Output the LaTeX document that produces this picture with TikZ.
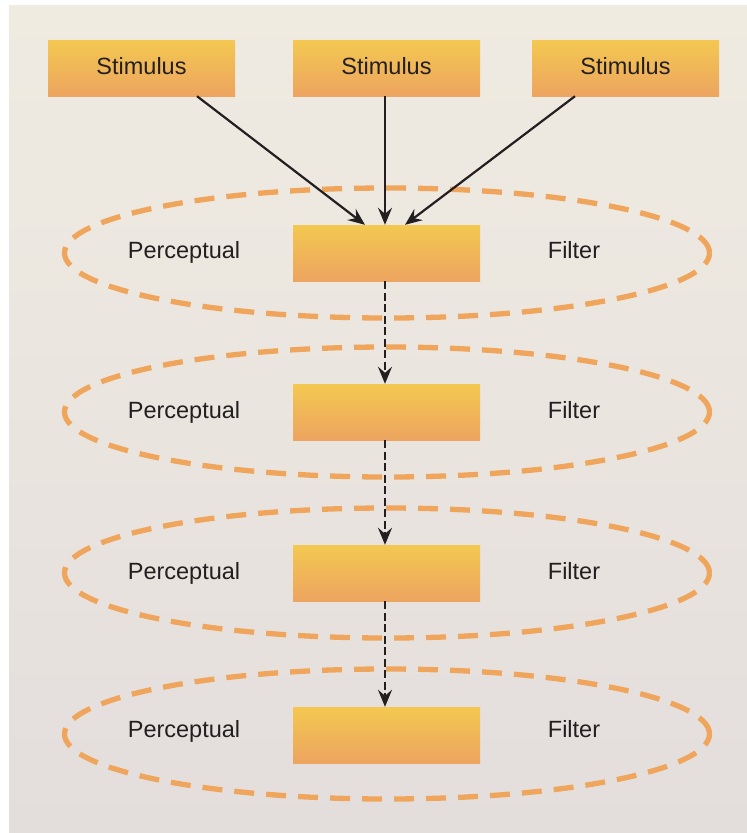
\documentclass[tikz,border=0pt]{standalone}
\usepackage{fontspec}
\setmainfont{Liberation Sans}
\usetikzlibrary{shapes.geometric,arrows.meta,calc}
\definecolor{bgtop}{RGB}{240,235,225}
\definecolor{bgbot}{RGB}{227,222,220}
\definecolor{boxtop}{RGB}{243,200,80}
\definecolor{boxbot}{RGB}{237,164,96}
\definecolor{ringc}{RGB}{240,165,92}
\definecolor{txt}{RGB}{35,31,32}
\tikzset{
  gbox/.style={rectangle, minimum width=187pt, minimum height=56pt, inner sep=0pt,
    top color=boxtop, bottom color=boxbot, text=txt, text height=15pt, text depth=2pt,
    font=\fontsize{23.5}{28}\selectfont},
  ring/.style={ellipse, draw=ringc, line width=5.3pt, dash pattern=on 20pt off 12pt,
    minimum width=645pt, minimum height=130pt, inner sep=0pt},
  lbl/.style={text=txt, inner sep=0pt, anchor=base, font=\fontsize{23.5}{28}\selectfont},
  arr/.style={draw=txt, line width=2.2pt, -{Stealth[length=17pt,width=14pt,inset=6pt]}},
  darr/.style={arr, dash pattern=on 8pt off 3.5pt}
}
\begin{document}
\begin{tikzpicture}[x=1pt,y=-1pt]
\useasboundingbox (0,0) rectangle (747,833);
\shade[top color=bgtop,bottom color=bgbot] (9,5) rectangle (747,833);
% rings
\node[ring] (r1) at (387,253) {};
\node[ring] (r2) at (387,412) {};
\node[ring] (r3) at (387,573) {};
\node[ring] (r4) at (387,734) {};
% stimulus boxes
\node[gbox] (s1) at (141.5,68) {Stimulus};
\node[gbox] (s2) at (386.5,68) {Stimulus};
\node[gbox] (s3) at (625.5,68) {Stimulus};
% filter boxes
\node[gbox] (f1) at (386.5,253) {};
\node[gbox] (f2) at (386.5,412) {};
\node[gbox] (f3) at (386.5,573) {};
\node[gbox] (f4) at (386.5,735) {};
% labels
\node[lbl] (p1) at (184,258) {Perceptual};
\node[lbl] (p2) at (184,418.5) {Perceptual};
\node[lbl] (p3) at (184,579) {Perceptual};
\node[lbl] (p4) at (184,737) {Perceptual};
\node[lbl] (q1) at (574,258) {Filter};
\node[lbl] (q2) at (574,418.5) {Filter};
\node[lbl] (q3) at (574,579) {Filter};
\node[lbl] (q4) at (574,737) {Filter};
% arrows
\draw[arr] ([xshift=55.5pt]s1.south) -- ([xshift=-21.5pt]f1.north);
\draw[arr] ([xshift=-1.5pt]s2.south) -- ([xshift=-1.5pt]f1.north);
\draw[arr] ([xshift=-50.5pt]s3.south) -- ([xshift=18.5pt]f1.north);
\draw[darr] ([xshift=-1.5pt]f1.south) -- ([xshift=-1.5pt]f2.north);
\draw[darr] ([xshift=-1.5pt]f2.south) -- ([xshift=-1.5pt]f3.north);
\draw[darr] ([xshift=-1.5pt]f3.south) -- ([xshift=-1.5pt]f4.north);
\end{tikzpicture}
\end{document}
